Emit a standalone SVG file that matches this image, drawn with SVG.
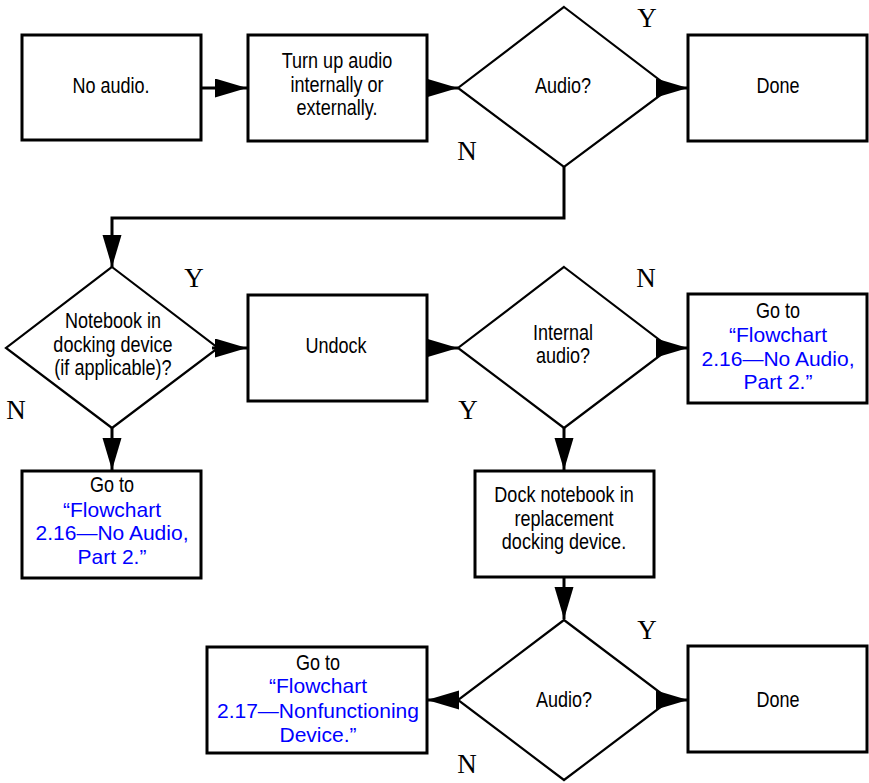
<svg xmlns="http://www.w3.org/2000/svg" width="869" height="783" viewBox="0 0 869 783">
<style>
.box{fill:#fff;stroke:#000;stroke-width:3}
.dia{fill:#fff;stroke:#000;stroke-width:2.2}
.t{font-family:"Liberation Sans",Arial,sans-serif;font-size:22px;fill:#000;text-anchor:middle}
.b{font-family:"Liberation Sans",Arial,sans-serif;font-size:21px;fill:#0000ff;text-anchor:middle}
.yn{font-family:"Liberation Serif","Times New Roman",serif;font-size:27px;fill:#000;text-anchor:middle}
.c{fill:none;stroke:#000;stroke-width:3}
</style>
<defs>
<marker id="ah" markerUnits="userSpaceOnUse" markerWidth="32" markerHeight="20" refX="32" refY="9.5" orient="auto">
<path d="M0,0 L32,9.5 L0,19 z" fill="#000"/>
</marker>
</defs>
<rect width="869" height="783" fill="#fff"/>
<g id="n1">
<rect class="box" x="22" y="35" width="179" height="105"/>
<text class="t" transform="translate(111,93) scale(0.82,1)">No audio.</text>
</g>
<g id="n2">
<rect class="box" x="248" y="35" width="179" height="106"/>
<text class="t" transform="translate(337,68) scale(0.82,1)"><tspan x="0" y="0">Turn up audio</tspan><tspan x="0" y="24">internally or</tspan><tspan x="0" y="47">externally.</tspan></text>
</g>
<g id="d1">
<polygon class="dia" points="564,7 670,88 564,167 458,88"/>
<text class="t" transform="translate(563,93) scale(0.82,1)">Audio?</text>
</g>
<g id="n3">
<rect class="box" x="688" y="35" width="179" height="106"/>
<text class="t" transform="translate(778,93) scale(0.82,1)">Done</text>
</g>
<g id="d2">
<polygon class="dia" points="112,267 218,348 112,428 6,348"/>
<text class="t" transform="translate(113,328) scale(0.82,1)"><tspan x="0" y="0">Notebook in</tspan><tspan x="0" y="24">docking device</tspan><tspan x="0" y="47">(if applicable)?</tspan></text>
</g>
<g id="n4">
<rect class="box" x="248" y="295" width="179" height="106"/>
<text class="t" transform="translate(336,353) scale(0.82,1)">Undock</text>
</g>
<g id="d3">
<polygon class="dia" points="564,267 670,348 564,428 458,348"/>
<text class="t" transform="translate(563,340) scale(0.82,1)"><tspan x="0" y="0">Internal</tspan><tspan x="0" y="23">audio?</tspan></text>
</g>
<g id="n5">
<rect class="box" x="688" y="294" width="179" height="109"/>
<text class="t" transform="translate(778,318) scale(0.82,1)">Go to</text>
<text class="b" x="778" y="342">“Flowchart</text>
<text class="b" x="778" y="366">2.16—No Audio,</text>
<text class="b" x="778" y="389">Part 2.”</text>
</g>
<g id="n6">
<rect class="box" x="22" y="471" width="179" height="107"/>
<text class="t" transform="translate(112,492) scale(0.82,1)">Go to</text>
<text class="b" x="112" y="517">“Flowchart</text>
<text class="b" x="112" y="540">2.16—No Audio,</text>
<text class="b" x="112" y="564">Part 2.”</text>
</g>
<g id="n7">
<rect class="box" x="475" y="471" width="179" height="106"/>
<text class="t" transform="translate(564,502) scale(0.82,1)"><tspan x="0" y="0">Dock notebook in</tspan><tspan x="0" y="24">replacement</tspan><tspan x="0" y="47">docking device.</tspan></text>
</g>
<g id="d4">
<polygon class="dia" points="564,620 670,700 564,780 458,700"/>
<text class="t" transform="translate(564,707) scale(0.82,1)">Audio?</text>
</g>
<g id="n8">
<rect class="box" x="207" y="647" width="220" height="106"/>
<text class="t" transform="translate(318,670) scale(0.82,1)">Go to</text>
<text class="b" x="318" y="693">“Flowchart</text>
<text class="b" x="318" y="718">2.17—Nonfunctioning</text>
<text class="b" x="318" y="742">Device.”</text>
</g>
<g id="n9">
<rect class="box" x="688" y="646" width="179" height="106"/>
<text class="t" transform="translate(778,707) scale(0.82,1)">Done</text>
</g>
<g id="connectors">
<line class="c" x1="201" y1="88" x2="247" y2="88" marker-end="url(#ah)"/>
<line class="c" x1="427" y1="88" x2="458" y2="88" marker-end="url(#ah)"/>
<line class="c" x1="657" y1="88" x2="688" y2="88" marker-end="url(#ah)"/>
<polyline class="c" points="564,167 564,218 112,218 112,267" marker-end="url(#ah)"/>
<line class="c" x1="212" y1="348" x2="247" y2="348" marker-end="url(#ah)"/>
<line class="c" x1="112" y1="428" x2="112" y2="470" marker-end="url(#ah)"/>
<line class="c" x1="427" y1="348" x2="458" y2="348" marker-end="url(#ah)"/>
<line class="c" x1="657" y1="348" x2="688" y2="348" marker-end="url(#ah)"/>
<line class="c" x1="564" y1="428" x2="564" y2="470" marker-end="url(#ah)"/>
<line class="c" x1="564" y1="577" x2="564" y2="619" marker-end="url(#ah)"/>
<line class="c" x1="458" y1="700" x2="427" y2="700" marker-end="url(#ah)"/>
<line class="c" x1="657" y1="700" x2="688" y2="700" marker-end="url(#ah)"/>
</g>
<g id="labels">
<text class="yn" x="647" y="27">Y</text>
<text class="yn" x="467" y="160">N</text>
<text class="yn" x="194" y="287">Y</text>
<text class="yn" x="16" y="419">N</text>
<text class="yn" x="646" y="287">N</text>
<text class="yn" x="468" y="419">Y</text>
<text class="yn" x="647" y="639">Y</text>
<text class="yn" x="467" y="773">N</text>
</g>
</svg>
